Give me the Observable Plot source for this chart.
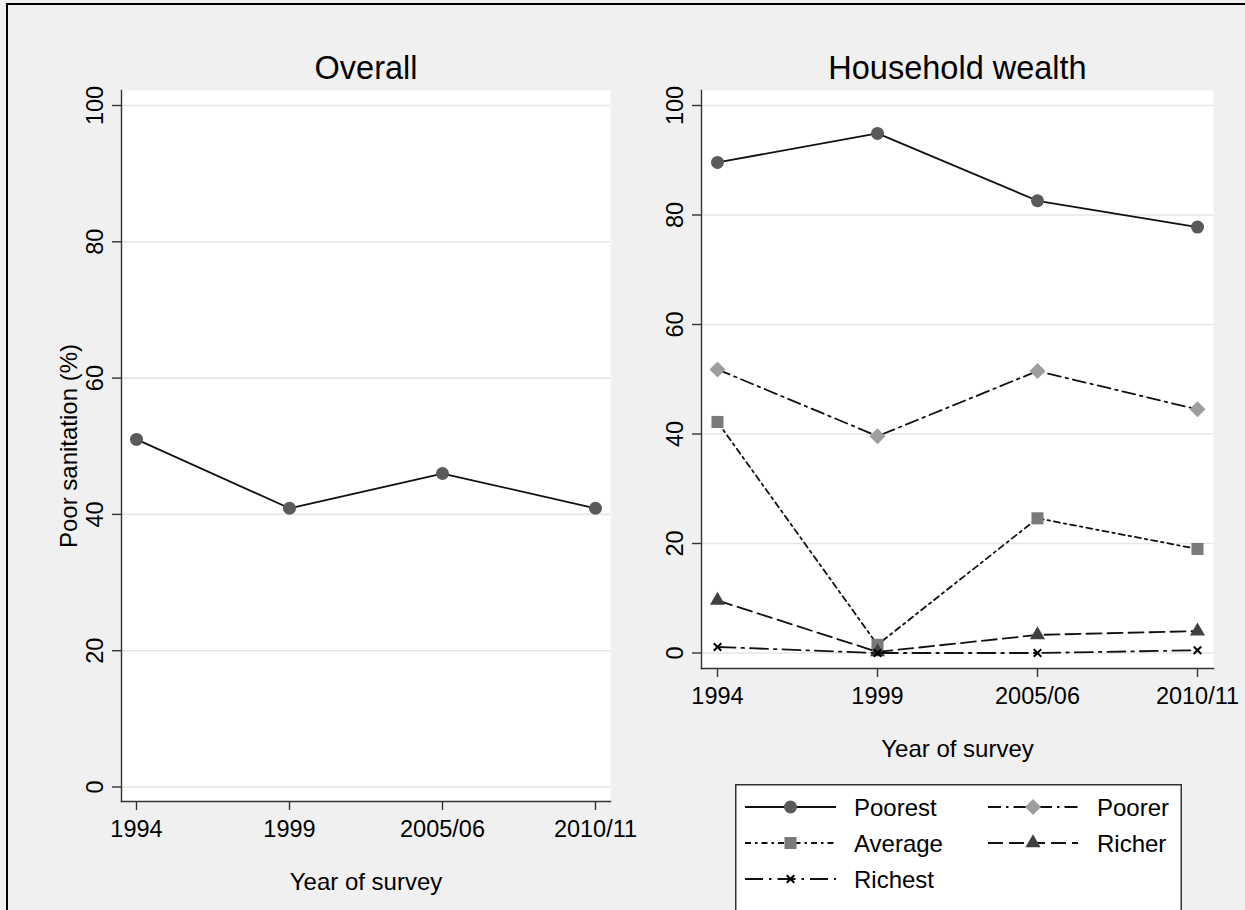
<!DOCTYPE html>
<html><head><meta charset="utf-8">
<script src="https://cdn.jsdelivr.net/npm/d3@7"></script>
<script src="https://cdn.jsdelivr.net/npm/@observablehq/plot@0.6"></script>
<style>
html,body{margin:0;padding:0;background:#f0f0f0;}
#wrap{position:relative;width:1245px;height:910px;overflow:hidden;background:#f0f0f0;font-family:"Liberation Sans",Arial,sans-serif;}
#wrap svg{position:absolute;top:0;}
.bt{position:absolute;left:6px;top:3px;width:1239px;height:2px;background:#000;}
.bl{position:absolute;left:6px;top:3px;width:2px;height:907px;background:#000;}
</style></head><body><div id="wrap"><div class="bt"></div><div class="bl"></div></div>
<script>
// ---- data ----
const years = ["1994", "1999", "2005/06", "2010/11"];
const yTicks = [0, 20, 40, 60, 80, 100];
const overall = [51.0, 40.9, 46.0, 40.9];
const groups = ["Poorest", "Poorer", "Average", "Richer", "Richest"];
const poorest = [89.6, 94.9, 82.6, 77.8];
const poorer = [51.8, 39.6, 51.5, 44.5];
const average = [42.2, 1.5, 24.6, 19.0];
const richer = [9.6, 0.2, 3.3, 4.0];
const richest = [1.1, 0.0, 0.0, 0.5];
const titles = ["Overall", "Household wealth"];
const yTitle = "Poor sanitation (%)";
const xTitle = "Year of survey";

// ---- styles ----
const font = '"Liberation Sans", Arial, sans-serif';
const styles = {
  Poorest: {symbol: "circle", r: 6.5, fill: "#5a5a5a", stroke: "none", dash: null, d3sym: d3.symbolCircle},
  Poorer: {symbol: "diamond2", r: 7.2, fill: "#9e9e9e", stroke: "none", dash: "13 5 2.5 5", d3sym: d3.symbolDiamond2},
  Average: {symbol: "square", r: 6.8, fill: "#7a7a7a", stroke: "none", dash: "6 4 2.5 4", d3sym: d3.symbolSquare},
  Richer: {symbol: "triangle", r: 5.6, fill: "#404040", stroke: "none", dash: "15 6", d3sym: d3.symbolTriangle},
  Richest: {symbol: "times", r: 3.5, fill: "none", stroke: "#000", dash: "18 6 2.5 6", d3sym: d3.symbolTimes}
};
const seriesVals = {Poorest: poorest, Poorer: poorer, Average: average, Richer: richer, Richest: richest};
const overallData = years.map((y, i) => ({year: y, value: overall[i]}));
const wealthData = groups.flatMap(g => years.map((y, i) => ({group: g, year: y, value: seriesVals[g][i]})));

const wrap = document.getElementById("wrap");
const axisCol = "#333";
const lineCol = "#111";
const tickFont = 23.5, titleFont = 32.5, labFont = 24;

function baseMarks(title, withY) {
  const m = [
    Plot.frame({fill: "white", stroke: null}),
    Plot.ruleY(yTicks, {stroke: "#e6e6e6", strokeWidth: 1.6}),
    Plot.frame({anchor: "left", stroke: axisCol, strokeWidth: 1.4}),
    Plot.frame({anchor: "bottom", stroke: axisCol, strokeWidth: 1.4}),
    Plot.axisY(yTicks, {tickSize: 9, tickPadding: 10, tickRotate: -90, fontSize: tickFont, label: null, stroke: axisCol, strokeWidth: 1.4, fill: "#000"}),
    Plot.axisX({tickSize: 9, tickPadding: 10, fontSize: tickFont, label: null, stroke: axisCol, strokeWidth: 1.4, fill: "#000"}),
    Plot.text([title], {text: d => d, frameAnchor: "top", textAnchor: "middle", lineAnchor: "bottom", dy: -12, fontSize: titleFont, fill: "#000"}),
    Plot.text([xTitle], {text: d => d, frameAnchor: "bottom", textAnchor: "middle", lineAnchor: "bottom", dy: 88, fontSize: labFont, fill: "#000"})
  ];
  if (withY) m.push(Plot.text([yTitle], {text: d => d, frameAnchor: "left", textAnchor: "middle", rotate: -90, lineAnchor: "bottom", dx: -45, fontSize: labFont, fill: "#000"}));
  return m;
}

// ---- left panel ----
const left = Plot.plot({
  width: 622, height: 910,
  marginLeft: 121, marginRight: 12, marginTop: 90, marginBottom: 109,
  style: {background: "transparent", fontFamily: font, color: "#000", overflow: "visible"},
  x: {type: "point", domain: years, padding: 0.098, label: null},
  y: {domain: [0, 100], range: [786.5, 105], label: null},
  marks: [
    ...baseMarks(titles[0], true),
    Plot.line(overallData, {x: "year", y: "value", stroke: lineCol, strokeWidth: 1.8}),
    Plot.dot(overallData, {x: "year", y: "value", r: styles.Poorest.r, fill: styles.Poorest.fill, symbol: "circle"})
  ]
});
left.style.left = "0px";
wrap.appendChild(left);

// ---- right panel ----
const wealthMarks = [];
for (const g of groups) {
  const s = styles[g];
  const data = wealthData.filter(d => d.group === g);
  wealthMarks.push(Plot.line(data, {x: "year", y: "value", stroke: lineCol, strokeWidth: 1.8, strokeDasharray: s.dash}));
  wealthMarks.push(Plot.dot(data, {x: "year", y: "value", r: s.r, symbol: s.symbol, fill: s.fill, stroke: s.stroke, strokeWidth: 2}));
}
const right = Plot.plot({
  width: 623, height: 910,
  marginLeft: 79, marginRight: 32, marginTop: 90, marginBottom: 242,
  style: {background: "transparent", fontFamily: font, color: "#000", overflow: "visible"},
  x: {type: "point", domain: years, padding: 0.094, label: null},
  y: {domain: [0, 100], range: [652.5, 105], label: null},
  marks: [...baseMarks(titles[1], false), ...wealthMarks]
});
right.style.left = "622px";
wrap.appendChild(right);

// ---- legend ----
const lg = d3.create("svg").attr("width", 447).attr("height", 140)
  .style("left", "735px").style("top", "784px").style("font-family", font);
lg.append("rect").attr("x", 0.75).attr("y", 0.75).attr("width", 445.5).attr("height", 200)
  .attr("fill", "white").attr("stroke", "#333").attr("stroke-width", 1.5);
const cols = [{x0: 10, x1: 101, xm: 55.5, xt: 119}, {x0: 253, x1: 343, xm: 298, xt: 362}];
const rows = [23, 59, 95];
groups.forEach((g, i) => {
  const c = cols[i % 2], ry = rows[Math.floor(i / 2)], s = styles[g];
  lg.append("line").attr("x1", c.x0).attr("x2", c.x1).attr("y1", ry).attr("y2", ry)
    .attr("stroke", lineCol).attr("stroke-width", 1.8).attr("stroke-dasharray", s.dash);
  lg.append("path").attr("d", d3.symbol(s.d3sym, Math.PI * s.r * s.r)())
    .attr("transform", `translate(${c.xm},${ry})`)
    .attr("fill", s.fill).attr("stroke", s.stroke).attr("stroke-width", 2);
  lg.append("text").attr("x", c.xt).attr("y", ry + 8.5).attr("font-size", labFont).attr("fill", "#000").text(g);
});
wrap.appendChild(lg.node());
</script></body></html>
